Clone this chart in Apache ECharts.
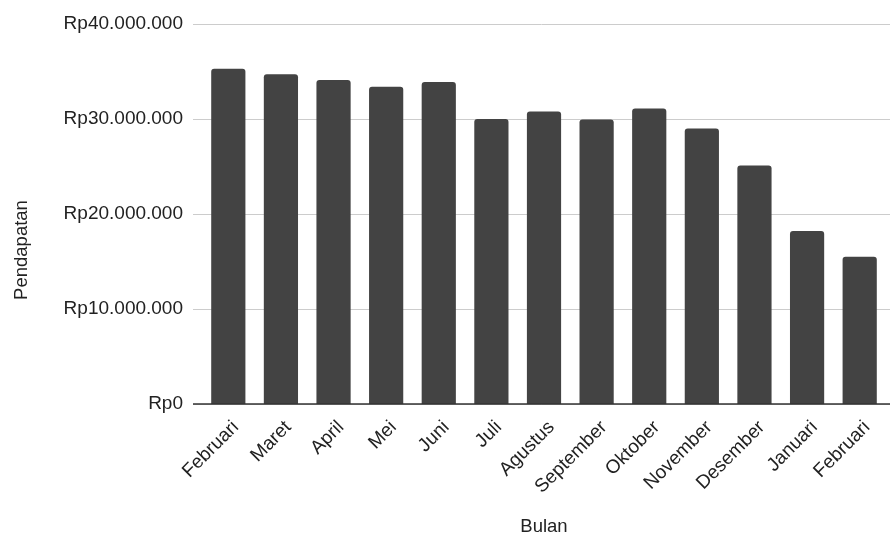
<!DOCTYPE html>
<html>
<head>
<meta charset="utf-8">
<script src="https://cdn.jsdelivr.net/npm/echarts@6/dist/echarts.min.js"></script>
<style>
  html, body { margin: 0; padding: 0; background: #fff; }
  #chart { width: 890px; height: 538px; }
</style>
</head>
<body>
<div id="chart"></div>
<script>
// Monthly revenue (Rupiah)
const months = ['Februari', 'Maret', 'April', 'Mei', 'Juni', 'Juli', 'Agustus',
  'September', 'Oktober', 'November', 'Desember', 'Januari', 'Februari'];
const revenue = [35300000, 34700000, 34100000, 33400000, 33900000, 30000000, 30800000,
  29950000, 31100000, 29000000, 25100000, 18200000, 15500000];
const yTicks = [0, 10000000, 20000000, 30000000, 40000000];

const font = '"Liberation Sans", Arial, sans-serif';
const textColor = '#222';

function rupiah(v) {
  return 'Rp' + String(v).replace(/\B(?=(\d{3})+(?!\d))/g, '.');
}

const chart = echarts.init(document.getElementById('chart'));
chart.setOption({
  animation: false,
  grid: [
    // wide grid: gridlines and value labels
    { left: 193, right: 0, top: 24, bottom: 134, containLabel: false, outerBoundsMode: 'none' },
    // bar grid
    { left: 202, right: 4, top: 24, bottom: 134, containLabel: false, outerBoundsMode: 'none' }
  ],
  xAxis: [
    {
      gridIndex: 0, type: 'value', min: 0, max: 1, show: true,
      axisLine: { show: false }, axisTick: { show: false },
      axisLabel: { show: false }, splitLine: { show: false }
    },
    {
      gridIndex: 1, type: 'category', data: months,
      axisLine: { show: false }, axisTick: { show: false },
      axisLabel: {
        interval: 0, rotate: 45, margin: 13,
        verticalAlign: 'top', padding: [1, 0, 0, 0],
        fontFamily: font, fontSize: 19, color: textColor
      },
      name: 'Bulan', nameLocation: 'middle', nameGap: 113,
      nameTextStyle: { fontFamily: font, fontSize: 18.5, color: textColor }
    }
  ],
  yAxis: [
    {
      gridIndex: 0, type: 'value', min: yTicks[0], max: yTicks[yTicks.length - 1],
      interval: yTicks[1] - yTicks[0],
      axisLine: { show: false }, axisTick: { show: false },
      axisLabel: {
        margin: 10, fontFamily: font, fontSize: 19, color: textColor,
        formatter: rupiah
      },
      splitLine: { show: true, lineStyle: { color: '#cccccc', width: 1 } }
    },
    {
      gridIndex: 1, type: 'value', min: yTicks[0], max: yTicks[yTicks.length - 1],
      interval: yTicks[1] - yTicks[0], show: false,
      splitLine: { show: false }
    }
  ],
  graphic: [
    {
      type: 'text', x: 22, y: 250, rotation: Math.PI / 2,
      style: {
        text: 'Pendapatan', font: '18.5px ' + font, fill: textColor,
        textAlign: 'center', textVerticalAlign: 'middle'
      }
    },
    {
      // baseline across the full chart width
      type: 'line', shape: { x1: 193, y1: 404, x2: 890, y2: 404 },
      style: { stroke: '#333', lineWidth: 1.5 }, z: 10
    }
  ],
  series: [
    {
      type: 'bar', xAxisIndex: 1, yAxisIndex: 1,
      data: revenue, barWidth: '65%',
      itemStyle: { color: '#434343', borderRadius: [3, 3, 0, 0] }
    }
  ]
});
</script>
</body>
</html>
